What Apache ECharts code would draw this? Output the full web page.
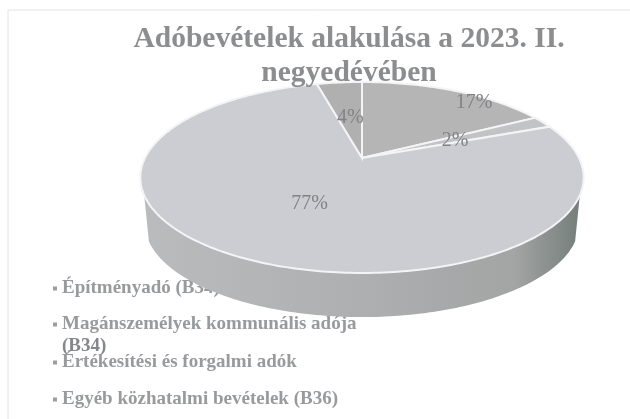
<!DOCTYPE html>
<html>
<head>
<meta charset="utf-8">
<style>html,body{margin:0;padding:0;background:#fff}#main{width:630px;height:419px}</style>
<script src="https://cdn.jsdelivr.net/npm/echarts@6/dist/echarts.min.js"></script>
</head>
<body>
<div id="main"></div>
<script>
var titleText = 'Adóbevételek alakulása a 2023. II.\nnegyedévében';
var categories = ['Magánszemélyek kommunális adója (B34)', 'Értékesítési és forgalmi adók', 'Építményadó (B34)', 'Egyéb közhatalmi bevételek (B36)'];
var shares = [17, 2, 77, 4];
var legendOrder = ['Építményadó (B34)', 'Magánszemélyek kommunális adója (B34)', 'Értékesítési és forgalmi adók', 'Egyéb közhatalmi bevételek (B36)'];

var sliceColors = ['#b5b5b6', '#c2c3c5', '#cbcdd2', '#b0b0b0'];
var legendTops = [277, 313, 351, 388];
// nudges for the percent labels, they do not sit on the mid angle in the original
var labelShift = [[52, -12], [-19, 5], [14, -9], [3, 8]];

// tilted disc: apex of the slices is not the middle of the ellipse
var disc = { x: 362, y: 158, r: 217, k: 91.5, p: 0.204, depth: 47 };

function project(deg, f, drop) {
    var a = deg * Math.PI / 180;
    var s = 1 + disc.p * f * Math.cos(a);
    return [
        disc.x + disc.r * f * Math.sin(a) / s,
        disc.y - disc.k * f * Math.cos(a) / s + (drop || 0)
    ];
}

function arc(from, to, f, drop) {
    var pts = [];
    for (var d = from; d < to; d += 1) pts.push(project(d, f, drop));
    pts.push(project(to, f, drop));
    return pts;
}

function renderSlice(params, api) {
    var start = api.value(1) * 3.6;
    var end = start + api.value(0) * 3.6;
    var children = [];
    // the rim starts a bit under the widest points of the ellipse
    var from = Math.max(start, 112), to = Math.min(end, 248);
    if (to > from) {
        children.push({
            type: 'polygon',
            shape: { points: arc(from, to, 1, 0).concat(arc(from, to, 0.98, disc.depth).reverse()) },
            style: {
                fill: new echarts.graphic.LinearGradient(0, 0, 1, 0, [
                    { offset: 0, color: '#b9bbbd' },
                    { offset: 0.5, color: '#adafb0' },
                    { offset: 0.85, color: '#a2a5a4' },
                    { offset: 1, color: '#757e7a' }
                ])
            }
        });
    }
    children.push({
        type: 'polygon',
        shape: { points: [[disc.x, disc.y]].concat(arc(start, end, 1, 0)) },
        style: { fill: sliceColors[params.seriesIndex], stroke: '#f4f4f6', lineWidth: 2 }
    });
    var mid = project((start + end) / 2, 0.6, 0);
    var shift = labelShift[params.seriesIndex];
    children.push({
        type: 'text',
        z2: 10,
        style: {
            x: mid[0] + shift[0], y: mid[1] + shift[1],
            text: api.value(0) + '%',
            fill: '#808284',
            font: '20px "Liberation Serif"',
            align: 'center', verticalAlign: 'middle'
        }
    });
    return { type: 'group', children: children };
}

var legendText = {
    fontFamily: 'Liberation Serif',
    fontWeight: 'bold',
    fontSize: 19,
    lineHeight: 23,
    color: '#989a9c'
};

var myChart = echarts.init(document.getElementById('main'));
var cumulative = 0;
var option = {
    backgroundColor: '#fff',
    animation: false,
    title: {
        text: titleText,
        left: 344,
        top: 17,
        textAlign: 'center',
        z: 8,
        textStyle: {
            fontFamily: 'Liberation Serif',
            fontWeight: 'bold',
            fontSize: 29.5,
            lineHeight: 34,
            color: '#8b8d8f'
        }
    },
    legend: legendOrder.map(function (name, i) {
        return {
            data: [name],
            left: 53,
            top: legendTops[i],
            z: 1,
            orient: 'vertical',
            icon: 'rect',
            itemWidth: 4,
            itemHeight: 4,
            itemGap: 0,
            selectedMode: false,
            padding: 0,
            // the code wraps onto its own line, drawn as a graphic below
            formatter: function (n) { return n.replace('adója (B34)', 'adója'); },
            textStyle: legendText
        };
    }),
    graphic: [{
        type: 'rect',
        z: 0,
        shape: { x: 8, y: 10, width: 640, height: 430 },
        style: { fill: 'none', stroke: '#e4e4e6', lineWidth: 1 }
    }, {
        type: 'text',
        z: 1,
        x: 62,
        y: 346,
        style: {
            text: '(B34)',
            font: 'bold 19px "Liberation Serif"',
            fill: '#85878a',
            verticalAlign: 'middle'
        }
    }],
    series: categories.map(function (name, i) {
        var row = [shares[i], cumulative];
        cumulative += shares[i];
        return {
            type: 'custom',
            name: name,
            coordinateSystem: 'none',
            z: 5,
            itemStyle: { color: '#9a9c9e' },
            renderItem: renderSlice,
            data: [row]
        };
    })
};
myChart.setOption(option, true);
window.addEventListener('resize', function () {
    myChart.resize();
});
</script>
</body>
</html>
